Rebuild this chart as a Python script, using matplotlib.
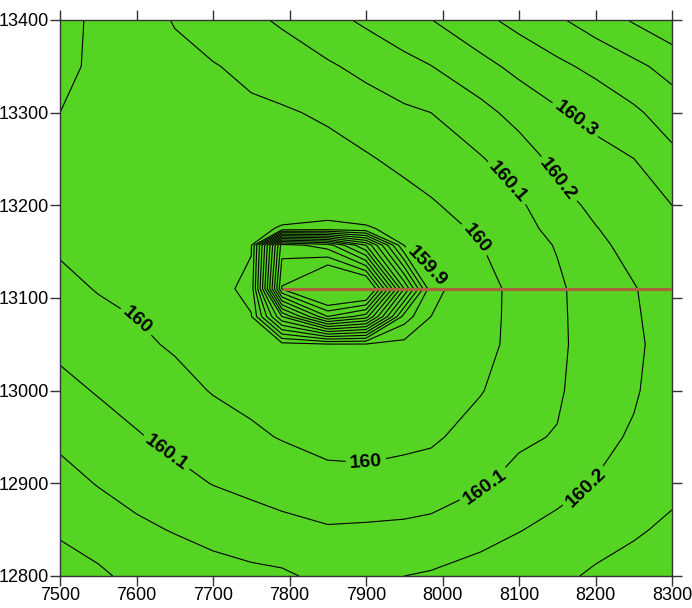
import numpy as np
import matplotlib
matplotlib.use("Agg")
import matplotlib.pyplot as plt
from matplotlib import font_manager

narrow = [f.name for f in font_manager.fontManager.ttflist if 'Narrow' in f.name]
plt.rcParams['font.family'] = (['Liberation Sans Narrow'] if narrow else []) + ['Liberation Sans', 'DejaVu Sans']

# grid nodes
grid_x = [7500, 7550, 7600, 7650, 7700, 7750, 7790, 7850, 7900, 7950, 7985,
          8050, 8100, 8150, 8200, 8250, 8300]
grid_y = [12800, 12850, 12900, 12950, 13000, 13050, 13080, 13110, 13157,
          13175, 13200, 13250, 13300, 13350, 13400]

# values, one row per grid_y
grid_z = [
    [160.342, 160.316, 160.274, 160.258, 160.239, 160.223, 160.215, 160.175, 160.16, 160.2, 160.21, 160.24, 160.263, 160.28, 160.314, 160.331, 160.35],
    [160.288, 160.255, 160.219, 160.194, 160.167, 160.145, 160.129, 160.11, 160.115, 160.12, 160.127, 160.163, 160.196, 160.227, 160.259, 160.29, 160.315],
    [160.234, 160.195, 160.163, 160.129, 160.097, 160.075, 160.056, 160.02, 160.02, 160.032, 160.048, 160.09, 160.129, 160.166, 160.203, 160.249, 160.28],
    [160.18, 160.143, 160.108, 160.075, 160.044, 160.015, 159.995, 159.98, 159.975, 159.98, 159.985, 160.04, 160.085, 160.106, 160.18, 160.208, 160.255],
    [160.127, 160.093, 160.061, 160.029, 159.995, 159.975, 159.96, 159.95, 159.95, 159.955, 159.96, 159.995, 160.05, 160.085, 160.165, 160.192, 160.24],
    [160.078, 160.048, 160.016, 159.99, 159.97, 159.95, 159.935, 159.91, 159.91, 159.93, 159.945, 159.985, 160.015, 160.075, 160.16, 160.185, 160.235],
    [160.05, 160.02, 159.998, 159.978, 159.955, 159.905, 159.3, 158.8, 158.95, 159.75, 159.9, 159.98, 160.017, 160.077, 160.161, 160.19, 160.24],
    [160.024, 159.995, 159.98, 159.965, 159.94, 159.87, 158.59, 158.3, 158.35, 159.3, 159.87, 159.975, 160.02, 160.08, 160.162, 160.195, 160.245],
    [159.988, 159.968, 159.955, 159.95, 159.935, 159.91, 158.75, 158.85, 159.2, 159.905, 159.94, 159.998, 160.045, 160.108, 160.18, 160.229, 160.265],
    [159.977, 159.958, 159.948, 159.947, 159.94, 159.93, 159.89, 159.87, 159.89, 159.93, 159.96, 160.016, 160.065, 160.132, 160.196, 160.243, 160.282],
    [159.961, 159.945, 159.94, 159.945, 159.945, 159.955, 159.955, 159.955, 159.955, 159.965, 159.99, 160.042, 160.085, 160.165, 160.221, 160.262, 160.3],
    [159.931, 159.93, 159.935, 159.95, 159.96, 159.97, 159.97, 159.97, 159.99, 160.024, 160.046, 160.093, 160.151, 160.227, 160.268, 160.299, 160.375],
    [159.9, 159.92, 159.935, 159.96, 159.975, 159.985, 159.99, 160.013, 160.053, 160.083, 160.1, 160.17, 160.234, 160.287, 160.33, 160.383, 160.447],
    [159.885, 159.912, 159.945, 159.978, 159.995, 160.02, 160.047, 160.088, 160.126, 160.17, 160.198, 160.27, 160.327, 160.378, 160.426, 160.477, 160.535],
    [159.875, 159.915, 159.962, 160.005, 160.043, 160.081, 160.113, 160.17, 160.217, 160.264, 160.298, 160.375, 160.432, 160.486, 160.547, 160.61, 160.673],
]

levels = [158.6, 158.7, 158.8, 158.9, 159.0, 159.1, 159.2, 159.3, 159.4, 159.5,
          159.6, 159.7, 159.8, 159.9, 160.0, 160.1, 160.2, 160.3, 160.4, 160.5,
          160.6]

# profile line
line_x = [7790, 8300]
line_y = [13110, 13110]

# where the labels sit (level, x, y)
label_spots = [
    (160.0, 7595, 13071), (160.1, 7637, 12931), (160.0, 7901, 12915),
    (160.1, 8058, 12893), (160.2, 8189, 12893), (160.0, 8045, 13165),
    (160.1, 8088, 13227), (160.2, 8150, 13227), (160.3, 8176, 13295),
    (159.9, 7975, 13130),
]

fig = plt.figure(figsize=(6.92, 6.08), dpi=100)
ax = fig.add_axes([60 / 692, 32 / 608, 612 / 692, 556 / 608])

ax.contourf(grid_x, grid_y, grid_z, levels=[150, 170], colors=['#56d424'])

labelled = sorted(set(s[0] for s in label_spots))
plain = [lv for lv in levels if lv not in labelled]
ax.contour(grid_x, grid_y, grid_z, levels=plain, colors='black', linewidths=0.8)

for lev in labelled:
    cs = ax.contour(grid_x, grid_y, grid_z, levels=[lev], colors='black',
                    linewidths=0.8)
    spots = [(sx, sy) for l, sx, sy in label_spots if l == lev]
    lbls = ax.clabel(cs, manual=spots, fmt='%g', fontsize=14, inline=True,
                     inline_spacing=4)
    for t in lbls:
        t.set_fontweight('bold')

ax.plot(line_x, line_y, color='#a9633a', lw=2.3, solid_capstyle='butt',
        zorder=4)

ax.set_xlim(7500, 8300)
ax.set_ylim(12800, 13400)
ax.set_xticks(range(7500, 8301, 100))
ax.set_yticks(range(12800, 13401, 100))
ax.tick_params(direction='out', length=7, width=1, colors='#333333',
               top=True, right=True, labelsize=13, labelcolor='black', pad=1)
for sp in ax.spines.values():
    sp.set_color('#333333')
    sp.set_linewidth(1)

fig.savefig('out.png', dpi=100)
